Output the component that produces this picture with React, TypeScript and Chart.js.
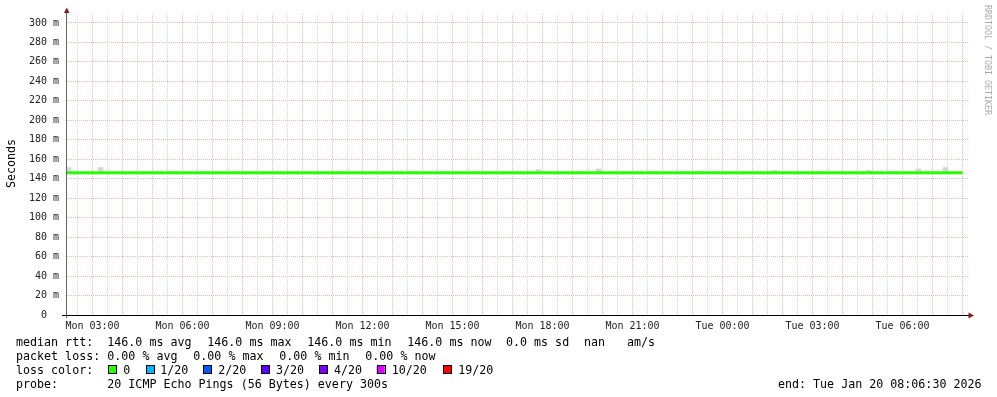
import React, { useEffect, useRef } from 'react';
import { Chart, registerables } from 'chart.js';

Chart.register(...registerables);

// ---- data ----
const medianHours = [2.15, 32.0]; // hours since Mon 00:00
const medianValues = [146.0, 146.0]; // ms

const smokeHours = [2.2, 3.27, 17.87, 19.87, 23.31, 25.73, 28.87, 30.53, 31.43];
const smokeTops = [151.5, 151.5, 149.5, 150.0, 148.0, 148.5, 148.5, 150.0, 151.5];

const yTickValues = [0, 20, 40, 60, 80, 100, 120, 140, 160, 180, 200, 220, 240, 260, 280, 300];
const yTickLabels = ['0  ', '20 m', '40 m', '60 m', '80 m', '100 m', '120 m', '140 m', '160 m', '180 m', '200 m', '220 m', '240 m', '260 m', '280 m', '300 m'];

const xTickHours = [3, 6, 9, 12, 15, 18, 21, 24, 27, 30];
const xTickLabels = ['Mon 03:00', 'Mon 06:00', 'Mon 09:00', 'Mon 12:00', 'Mon 15:00', 'Mon 18:00', 'Mon 21:00', 'Tue 00:00', 'Tue 03:00', 'Tue 06:00'];

const rttLabel = 'median rtt:';
const rttStats = ['146.0 ms avg', '146.0 ms max', '146.0 ms min', '146.0 ms now', '0.0 ms sd', 'nan', 'am/s'];
const lossLabel = 'packet loss:';
const lossStats = ['0.00 % avg', '0.00 % max', '0.00 % min', '0.00 % now'];
const colorLabel = 'loss color:';
const lossColorLabels = ['0', '1/20', '2/20', '3/20', '4/20', '10/20', '19/20'];
const lossColors = ['#26ff00', '#00b8ff', '#0059ff', '#5e00ff', '#7e00ff', '#dd00ff', '#ff0000'];
const probeLabel = 'probe:';
const probeText = '20 ICMP Echo Pings (56 Bytes) every 300s';
const endText = 'end: Tue Jan 20 08:06:30 2026';
const yTitle = 'Seconds';
const watermark = 'RRDTOOL / TOBI OETIKER';

// ---- layout (styles only) ----
const X_MIN = 2.15;
const X_MAX = 32.183;
const Y_MAX = 309.2;
const MONO = '"DejaVu Sans Mono", monospace';
const MAJOR = '#f0b6b6';
const MINOR = '#d6d6d6';

const rttX = [107.3, 207.3, 307.3, 407.3, 506, 584, 627];
const lossX = [107.3, 193.3, 279.3, 365.3];
const boxX = [108.3, 146, 203.3, 261, 319, 376.7, 443.3];
const boxLabelX = [123.3, 160.3, 218.3, 276, 334, 391.7, 458.3];

const decorPlugin = {
  id: 'decor',
  afterDraw(chart: any) {
    const ctx = chart.ctx as CanvasRenderingContext2D;
    const area = chart.chartArea;
    ctx.save();
    // y axis line
    ctx.strokeStyle = '#666';
    ctx.lineWidth = 1;
    ctx.beginPath();
    ctx.moveTo(66.5, 11);
    ctx.lineTo(66.5, area.bottom + 3);
    ctx.stroke();
    // x axis line
    ctx.strokeStyle = '#000';
    ctx.beginPath();
    ctx.moveTo(62, area.bottom + 0.5);
    ctx.lineTo(970, area.bottom + 0.5);
    ctx.stroke();
    // arrows
    ctx.fillStyle = '#8b1a1a';
    ctx.beginPath();
    ctx.moveTo(64, 13);
    ctx.lineTo(69.5, 13);
    ctx.lineTo(66.75, 7.5);
    ctx.closePath();
    ctx.fill();
    ctx.beginPath();
    ctx.moveTo(968.5, area.bottom - 2.5);
    ctx.lineTo(968.5, area.bottom + 3.5);
    ctx.lineTo(974, area.bottom + 0.5);
    ctx.closePath();
    ctx.fill();

    // y title
    ctx.fillStyle = '#000';
    ctx.font = `11.67px ${MONO}`;
    ctx.save();
    ctx.translate(14.5, 163.5);
    ctx.rotate(-Math.PI / 2);
    ctx.textAlign = 'center';
    ctx.textBaseline = 'alphabetic';
    ctx.fillText(yTitle, 0, 0);
    ctx.restore();

    // watermark
    ctx.save();
    ctx.fillStyle = '#aaaaaa';
    ctx.font = `8.3px ${MONO}`;
    ctx.translate(985, 5);
    ctx.rotate(Math.PI / 2);
    ctx.textAlign = 'left';
    ctx.textBaseline = 'alphabetic';
    ctx.fillText(watermark, 0, 0);
    ctx.restore();

    // legend
    ctx.fillStyle = '#000';
    ctx.font = `11.67px ${MONO}`;
    ctx.textAlign = 'left';
    ctx.textBaseline = 'alphabetic';
    ctx.fillText(rttLabel, 16, 346);
    rttStats.forEach((s, i) => ctx.fillText(s, rttX[i], 346));
    ctx.fillText(lossLabel, 16, 360);
    lossStats.forEach((s, i) => ctx.fillText(s, lossX[i], 360));
    ctx.fillText(colorLabel, 16, 374);
    lossColorLabels.forEach((s, i) => {
      ctx.fillStyle = lossColors[i];
      ctx.fillRect(boxX[i], 366, 8, 8);
      ctx.strokeStyle = '#000';
      ctx.lineWidth = 1;
      ctx.strokeRect(Math.round(boxX[i]) + 0.5, 365.5, 8, 8);
      ctx.fillStyle = '#000';
      ctx.fillText(s, boxLabelX[i], 374);
    });
    ctx.fillText(probeLabel, 16, 388);
    ctx.fillText(probeText, 107.3, 388);
    ctx.fillText(endText, 778, 388);
    ctx.restore();
  },
};

export default function App() {
  const ref = useRef<HTMLCanvasElement | null>(null);
  useEffect(() => {
    if (!ref.current) return;
    const chart = new Chart(ref.current, {
      type: 'line',
      data: {
        datasets: [
          {
            type: 'line',
            data: medianHours.map((h, i) => ({ x: h, y: medianValues[i] })),
            borderColor: '#26ff00',
            borderWidth: 3,
            pointRadius: 0,
            order: 0,
          } as any,
          {
            type: 'bar',
            data: smokeHours.map((h, i) => ({ x: h, y: [146.0, smokeTops[i]] })),
            backgroundColor: '#d6d6d6',
            barThickness: 5,
            grouped: false,
            order: 1,
          } as any,
        ],
      },
      options: {
        animation: false,
        responsive: false,
        parsing: true,
        layout: { padding: { left: 0, top: 13, right: 29, bottom: 0 } },
        plugins: { legend: { display: false }, tooltip: { enabled: false } },
        scales: {
          x: {
            type: 'linear',
            position: 'bottom',
            min: X_MIN,
            max: X_MAX,
            offset: false,
            afterFit: (s: any) => { s.height = 82; },
            afterBuildTicks: (s: any) => {
              const t: any[] = [];
              for (let v = Math.ceil(X_MIN * 2) / 2; v <= X_MAX; v += 0.5) t.push({ value: v });
              s.ticks = t;
            },
            grid: {
              offset: false,
              drawTicks: false,
              lineWidth: 1,
              color: (c: any) => (c.tick && Number.isInteger(c.tick.value) ? MAJOR : MINOR),
            },
            border: { display: false, dash: [1, 1] },
            ticks: {
              autoSkip: false,
              maxRotation: 0,
              padding: 5,
              color: '#222',
              font: { family: MONO, size: 10 },
              callback: (v: any) => {
                const i = xTickHours.indexOf(Number(v));
                return i >= 0 ? xTickLabels[i] : '';
              },
            },
          },
          y: {
            type: 'linear',
            min: 0,
            max: Y_MAX,
            afterFit: (s: any) => { s.width = 67; },
            afterBuildTicks: (s: any) => {
              const t: any[] = [];
              for (let v = 0; v <= 300; v += 10) t.push({ value: v });
              s.ticks = t;
            },
            grid: {
              drawTicks: false,
              lineWidth: 1,
              color: (c: any) => (c.tick && c.tick.value % 20 === 0 ? MAJOR : MINOR),
            },
            border: { display: false, dash: [1, 1] },
            ticks: {
              padding: 8,
              color: '#222',
              font: { family: MONO, size: 10 },
              callback: (v: any) => {
                const i = yTickValues.indexOf(Number(v));
                return i >= 0 ? yTickLabels[i] : '';
              },
            },
          },
        },
      },
      plugins: [decorPlugin],
    } as any);
    return () => chart.destroy();
  }, []);
  return (
    <canvas
      ref={ref}
      width={997}
      height={397}
      style={{ position: 'absolute', left: 0, top: 0, width: 997, height: 397, background: '#fff' }}
    />
  );
}
